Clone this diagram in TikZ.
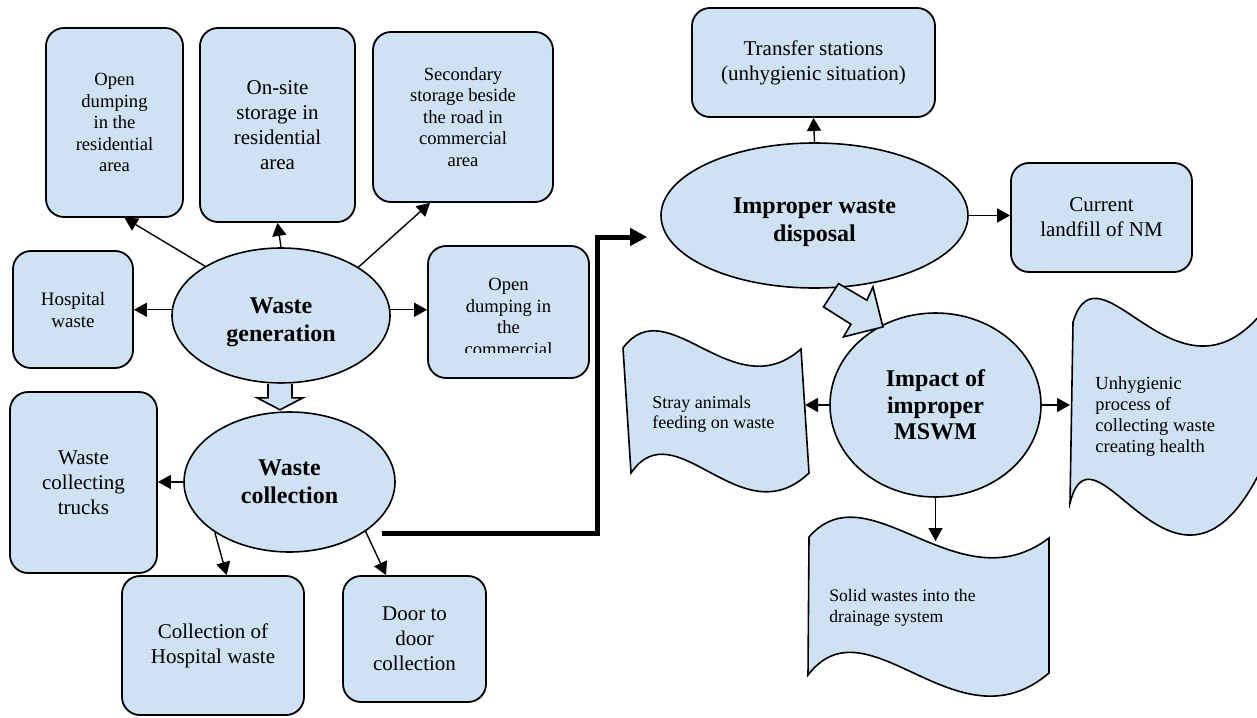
\documentclass[tikz,border=0pt]{standalone}
\usepackage{fontspec}
\setmainfont{Liberation Serif}
\usetikzlibrary{shapes}
\usetikzlibrary{arrows.meta}
\definecolor{boxblue}{RGB}{207,226,243}

\begin{document}
\begin{tikzpicture}[x=0.5pt,y=-0.5pt,
  box/.style={draw,line width=0.9pt,fill=boxblue,rounded corners=9pt,align=center,inner sep=0pt},
  blob/.style={draw,line width=0.8pt,fill=boxblue,ellipse,inner sep=0pt,align=center,font=\fontsize{12}{13.8}\selectfont\bfseries},
  wave/.style={draw,line width=0.8pt,fill=boxblue},
  hollow/.style={draw,line width=0.8pt,fill=boxblue,line join=miter},
  arr/.style={line width=0.7pt,-{Triangle[length=6.5pt,width=7pt]}},
  bigarr/.style={line width=2.5pt,-{Triangle[length=8.5pt,width=8.5pt]}},
  smalltxt/.style={font=\fontsize{9.3}{10.75}\selectfont},
  midtxt/.style={font=\fontsize{10.5}{12.4}\selectfont},
  wtext/.style={font=\fontsize{9}{10.2}\selectfont,align=left,inner sep=0pt}]
\useasboundingbox (0,0) rectangle (1257,717);
\clip (0,0) rectangle (1257,717);
%%%%%%%%% waste generation
\node[box,smalltxt,minimum width=68.5pt,minimum height=94.5pt] (resdump) at (114.5,122.5) {Open\\dumping\\in the\\residential\\area};
\node[box,midtxt,minimum width=77.5pt,minimum height=97pt] (onsite) at (277.5,125) {On-site\\storage in\\residential\\area};
\node[box,smalltxt,minimum width=90pt,minimum height=85pt] (secstore) at (463,117) {Secondary\\storage beside\\the road in\\commercial\\area};
\node[box,font=\fontsize{9.5}{11}\selectfont,minimum width=60pt,minimum height=58.5pt] (hospital) at (73,309.5) {Hospital\\waste};
\node[box,minimum width=80.5pt,minimum height=66pt] (comdump) at (508.5,312) {};
\begin{scope}
\clip (430,270) rectangle (587,352);
\node[smalltxt,align=center,inner sep=0pt] (comdumptext) at (508.5,317) {Open\\dumping in\\the\\commercial};
\end{scope}
\node[blob,minimum width=109pt,minimum height=67.5pt] (wgen) at (281,315.5) {\rule{0pt}{14.5pt}Waste\\generation};
%%%%%%%%% waste collection
\node[blob,minimum width=105.5pt,minimum height=70pt] (wcoll) at (289.5,482) {Waste\\collection};
\node[box,midtxt,minimum width=73.5pt,minimum height=90.5pt] (trucks) at (83.5,482.5) {Waste\\collecting\\trucks};
\node[box,midtxt,minimum width=91pt,minimum height=69.5pt] (hospcoll) at (213,645.5) {Collection of\\Hospital waste};
\node[box,midtxt,minimum width=71.5pt,minimum height=63pt] (door) at (414.5,639) {Door to\\door\\collection};
%%%%%%%%% disposal
\node[blob,minimum width=153.5pt,minimum height=72.5pt] (dispo) at (814.5,215.5) {\rule{0pt}{14.5pt}Improper waste\\disposal};
\node[box,midtxt,minimum width=121.5pt,minimum height=54.5pt] (transfer) at (813.5,62.5) {Transfer stations\\(unhygienic situation)};
\node[box,midtxt,minimum width=90.5pt,minimum height=54.5pt] (landfill) at (1101.5,217.5) {Current\\landfill of NM};
\node[blob,font=\fontsize{12}{13.3}\selectfont\bfseries,minimum width=105.5pt,minimum height=92pt] (impact) at (935.5,405) {Impact of\\improper\\MSWM};
%%%%%%%%% impacts
\draw[wave] (623,348) .. controls (667.5,288) and (733,409) .. (801,349)
  -- (809,473) .. controls (741,538) and (675.5,408) .. (631,473) -- cycle;
\node[wtext,anchor=west] (stray) at (652,414) {Stray animals\\feeding on waste};
\coordinate (stray-in) at (805,406);
\draw[wave] (1073,322) .. controls (1100,235) and (1180,425) .. (1268,305)
  -- (1268,455) .. controls (1180,655) and (1095,405) .. (1070,503) -- cycle;
\begin{scope}
\clip (1080,360) rectangle (1257,455);
\node[wtext,font=\fontsize{9.25}{10.5}\selectfont,anchor=west] (unhyg) at (1095,417) {Unhygienic\\process of\\collecting waste\\creating health};
\end{scope}
\coordinate (unhyg-in) at (1070,406);
\draw[wave] (809,537) .. controls (869,468) and (958,607) .. (1049,538)
  -- (1049,673) .. controls (957,752) and (868,597) .. (808,675) -- cycle;
\node[wtext,font=\fontsize{8.8}{10.5}\selectfont,anchor=west] (solid) at (829,608) {Solid wastes into the\\drainage system};
\coordinate (solid-in) at (935.5,541);
%%%%%%%%% hollow arrows
\draw[hollow] ([xshift=-6.5pt]wgen.south) -- ++(0,14) -- ++(-11,0) -- ++(23,12)
  -- ++(23,-12) -- ++(-11,0) -- ++(0,-14);
\draw[hollow] ([shift={(12pt,2.6pt)}]dispo.south) -- ++(28.4,16.6) -- ++(6,-13.3)
  -- ++(10,40) -- ++(-39.4,10) -- ++(7.4,-12.7) -- ++(-27.4,-17.3) -- cycle;
%%%%%%%%% arrows
\draw[arr] (wgen.147) -- (resdump.-84);
\draw[arr] (wgen.north) -- (onsite.south);
\draw[arr] (wgen.32) -- (secstore.-111);
\draw[arr] (wgen.177) -- (wgen.177 -| hospital.east);
\draw[arr] (wgen.3) -- (wgen.3 -| comdump.west);
\draw[arr] (wcoll.west) -- (wcoll.west -| trucks.east);
\draw[arr] (wcoll.-146) -- (hospcoll.79);
\draw[arr] (wcoll.-33) -- (door.114);
\coordinate (sink) at (382,533);
\coordinate (bend) at (597,237);
\draw[bigarr,shorten >=6.5pt] (sink) -| (bend) -- (bend -| dispo.west);
\draw[arr] (dispo.north) -- (transfer.south);
\draw[arr] (dispo.east) -- (dispo.east -| landfill.west);
\draw[arr] (impact.west) -- (impact.west -| stray-in);
\draw[arr] (impact.east) -- (impact.east -| unhyg-in);
\draw[arr] (impact.south) -- (solid-in);
\end{tikzpicture}
\end{document}
